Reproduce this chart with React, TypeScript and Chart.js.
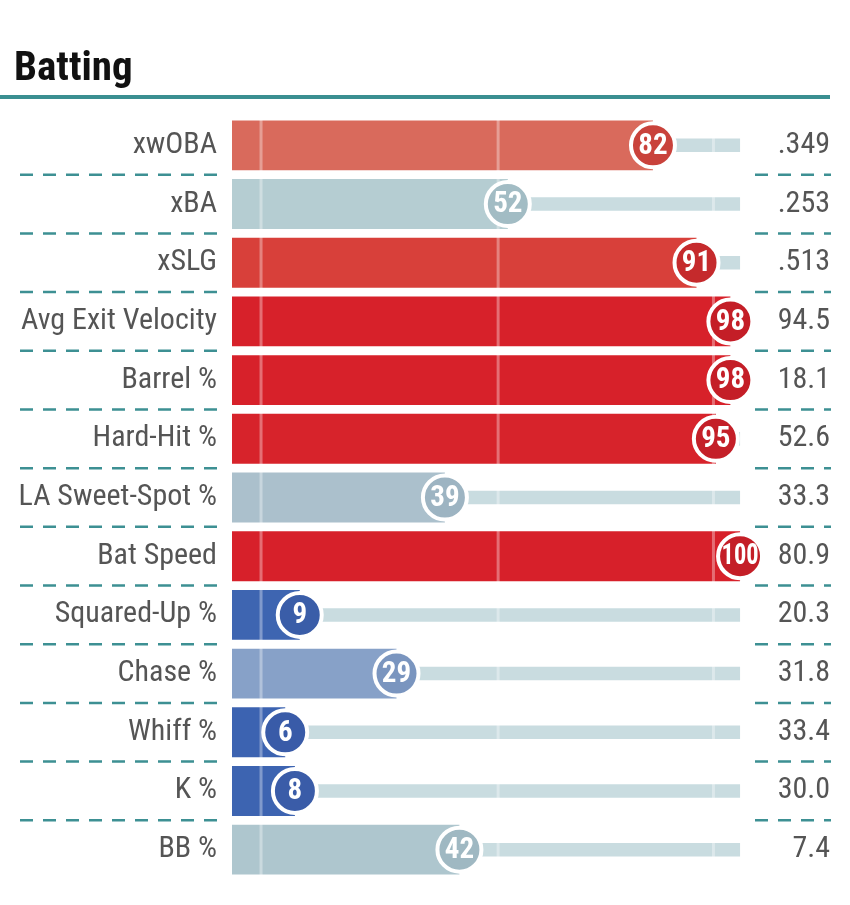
import React, { useEffect, useRef } from "react";
import { Chart, registerables } from "chart.js";
Chart.register(...registerables);

const metrics = [
  "xwOBA", "xBA", "xSLG", "Avg Exit Velocity", "Barrel %", "Hard-Hit %",
  "LA Sweet-Spot %", "Bat Speed", "Squared-Up %", "Chase %", "Whiff %", "K %", "BB %",
];
const percentiles = [82, 52, 91, 98, 98, 95, 39, 100, 9, 29, 6, 8, 42];
const statValues = [".349", ".253", ".513", "94.5", "18.1", "52.6", "33.3", "80.9", "20.3", "31.8", "33.4", "30.0", "7.4"];
const barColors = [
  "#d96a5c", "#b5cdd2", "#d8403a", "#d7212a", "#d7212a", "#d7232b",
  "#abc0cc", "#d7202a", "#3e65b1", "#87a1c8", "#3c63b1", "#3d64b1", "#aec6ce",
];
const circleColors = [
  "#c9423b", "#a2bcc4", "#c52a2c", "#c41e27", "#c41e27", "#c41f28",
  "#9db4c2", "#c41e27", "#3a5da8", "#7a95bf", "#395ba8", "#3a5ca8", "#9fb8c2",
];
const guideValues = [1, 50, 94.5];
const scaleMin = -5;
const scaleMax = 100;
const title = "Batting";

const COND = "'Roboto Condensed', 'Liberation Sans Narrow', 'DejaVu Sans Condensed', Roboto, sans-serif";

const decorPlugin = {
  id: "decor",
  beforeDraw(chart: any) {
    const ctx = chart.ctx;
    ctx.save();
    ctx.fillStyle = "#111";
    ctx.font = `bold 41px ${COND}`;
    ctx.textBaseline = "alphabetic";
    ctx.textAlign = "left";
    ctx.fillText(title, 14, 80);
    ctx.fillStyle = "#3a8f91";
    ctx.fillRect(0, 95, 830, 4);
    const y = chart.scales.y;
    ctx.strokeStyle = "#3d9093";
    ctx.lineWidth = 2.5;
    ctx.setLineDash([13, 10]);
    for (let i = 0; i < metrics.length - 1; i++) {
      const yy = (y.getPixelForValue(i) + y.getPixelForValue(i + 1)) / 2;
      ctx.beginPath();
      ctx.moveTo(20, yy);
      ctx.lineTo(218, yy);
      ctx.moveTo(755, yy);
      ctx.lineTo(831, yy);
      ctx.stroke();
    }
    ctx.restore();
  },
  afterDatasetDraw(chart: any, args: any) {
    if (args.meta.label !== "main") return;
    const ctx = chart.ctx;
    const x = chart.scales.x;
    const area = chart.chartArea;
    ctx.save();
    ctx.strokeStyle = "rgba(255,255,255,0.35)";
    ctx.lineWidth = 3;
    guideValues.forEach((v) => {
      const px = x.getPixelForValue(v);
      ctx.beginPath();
      ctx.moveTo(px, area.top);
      ctx.lineTo(px, area.bottom);
      ctx.stroke();
    });
    ctx.restore();
  },
  afterDatasetsDraw(chart: any) {
    const ctx = chart.ctx;
    const idx = chart.data.datasets.findIndex((d: any) => d.label === "points");
    const meta = chart.getDatasetMeta(idx);
    ctx.save();
    ctx.fillStyle = "#fff";
    ctx.font = `bold 29px ${COND}`;
    ctx.textAlign = "center";
    ctx.textBaseline = "middle";
    meta.data.forEach((pt: any, i: number) => {
      ctx.fillText(String(percentiles[i]), pt.x, pt.y + 1, 37);
    });
    ctx.restore();
  },
};

function fitWidth(w: number) {
  return (scale: any) => {
    scale.width = w;
    scale.paddingTop = 0;
    scale.paddingBottom = 0;
  };
}

export default function App() {
  const ref = useRef<HTMLCanvasElement | null>(null);
  useEffect(() => {
    if (!ref.current) return;
    const chart = new Chart(ref.current, {
      type: "bar",
      data: {
        labels: metrics,
        datasets: [
          {
            type: "line",
            label: "points",
            data: percentiles,
            indexAxis: "y",
            showLine: false,
            pointRadius: 22,
            pointHoverRadius: 22,
            pointBackgroundColor: circleColors,
            pointBorderColor: "#ffffff",
            pointBorderWidth: 4,
            pointHoverBorderWidth: 4,
            clip: false,
            order: 0,
            yAxisID: "y",
            xAxisID: "x",
          } as any,
          {
            label: "main",
            data: percentiles.map((p) => [scaleMin, p]),
            backgroundColor: barColors,
            barPercentage: 0.85,
            categoryPercentage: 1,
            grouped: false,
            order: 1,
            yAxisID: "y",
            xAxisID: "x",
          } as any,
          {
            label: "track",
            data: percentiles.map((p) => [p, scaleMax]),
            backgroundColor: "#c9dce0",
            barPercentage: 0.23,
            categoryPercentage: 1,
            grouped: false,
            order: 2,
            yAxisID: "y",
            xAxisID: "x",
          } as any,
        ],
      },
      options: {
        indexAxis: "y",
        animation: false,
        responsive: false,
        maintainAspectRatio: false,
        events: [],
        layout: { padding: { left: 0, right: 20, top: 116, bottom: 26 } },
        plugins: { legend: { display: false }, tooltip: { enabled: false }, title: { display: false } },
        scales: {
          x: { type: "linear", min: scaleMin, max: scaleMax + 0.4, display: false },
          y: {
            type: "category",
            position: "left",
            offset: true,
            grid: { display: false, drawTicks: false },
            border: { display: false },
            ticks: { autoSkip: false, padding: 15, color: "#555", font: { family: COND, size: 30 } },
            afterFit: fitWidth(232),
          },
          y2: {
            type: "category",
            position: "right",
            labels: statValues,
            offset: true,
            grid: { display: false, drawTicks: false },
            border: { display: false },
            ticks: { autoSkip: false, padding: 0, crossAlign: "far", color: "#555", font: { family: COND, size: 30 } },
            afterFit: fitWidth(88),
          },
        },
      } as any,
      plugins: [decorPlugin],
    });
    return () => chart.destroy();
  }, []);
  return (
    <canvas
      ref={ref}
      width={850}
      height={905}
      style={{ position: "absolute", left: 0, top: 0, width: 850, height: 905 }}
    />
  );
}
